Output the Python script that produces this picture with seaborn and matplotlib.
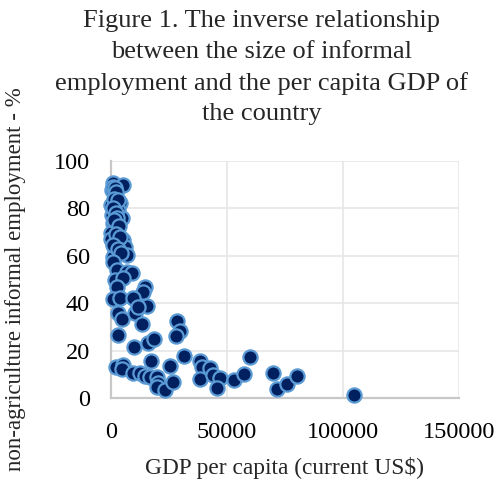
import matplotlib
matplotlib.use("Agg")
import matplotlib.pyplot as plt
import seaborn as sns
import pandas as pd

# GDP per capita (current US$) and non-agriculture informal employment (%)
gdp_per_capita = [
    1120, 5430, 500, 1850, 4000, 300, 3300, 430, 4740, 1120, 1850, 200, 200,
    5430, 6160, 1850, 6900, 1120,
    800, 2000, 2500, 1500, 3000, 900, 2200, 2800, 1500, 3800, 2500, 4200,
    1000, 3000, 4500,
    1120, 2590, 6900, 9050, 1850, 5430, 2590, 14780, 14050, 1120, 4000, 9740,
    15520, 3300, 4740, 10470, 11900, 13360, 3300,
    28450, 29870, 28140, 10180, 16200, 18800,
    2400, 5400, 4900, 9740, 12630, 14780, 16940, 17370, 19830, 20520, 19830,
    23400, 25560, 26980, 31720, 38490, 39220, 38490, 42800, 44220, 47100,
    45690, 53000, 57300, 60000, 69700, 71500, 76000, 80400, 104700,
]
informal_employment = [
    90.6, 89.9, 87.8, 85.7, 82.1, 81.4, 79.3, 77.2, 75.8, 73.7, 70.9, 69.5, 67.2,
    66.7, 63.8, 61.7, 60.3, 59.6,
    89.0, 88.5, 87.0, 84.0, 83.5, 80.0, 78.0, 76.0, 75.0, 72.5, 69.0, 68.0,
    64.5, 63.0, 61.0,
    57.5, 54.0, 53.3, 52.9, 49.8, 50.5, 47.0, 46.7, 44.9, 41.6, 42.1, 42.1,
    38.8, 35.7, 33.3, 36.0, 38.5, 31.2, 26.6,
    32.6, 28.4, 26.2, 21.4, 23.3, 24.8,
    13.0, 13.8, 12.3, 10.7, 10.4, 9.4, 9.0, 15.7, 9.0, 6.2, 4.8,
    3.4, 13.5, 6.9, 17.7, 15.6, 12.9, 7.9, 12.5, 9.7, 8.3,
    4.1, 7.6, 10.1, 17.4, 10.4, 3.8, 6.0, 9.3, 1.2,
]

x_ticks = [0, 50000, 100000, 150000]
y_ticks = [0, 20, 40, 60, 80, 100]

df = pd.DataFrame({"gdp": gdp_per_capita, "informal": informal_employment})

sns.set_style("white")
plt.rcParams["font.family"] = ["Liberation Serif", "DejaVu Serif"]

fig = plt.figure(figsize=(5.03, 4.86), dpi=100)
ax = fig.add_axes([0.220, 0.181, 0.693, 0.488])

sns.scatterplot(
    data=df, x="gdp", y="informal", ax=ax,
    s=105, color="#002060", edgecolor="#5B9BD5", linewidth=1.6,
    zorder=3, clip_on=False,
)

ax.set_xlim(0, 150000)
ax.set_ylim(0, 100)
ax.set_xticks(x_ticks)
ax.set_yticks(y_ticks)
ax.set_xticklabels([str(t) for t in x_ticks])
ax.set_yticklabels([str(t) for t in y_ticks])
ax.tick_params(axis="both", length=0, labelsize=17.5, colors="#000000")
ax.tick_params(axis="x", pad=17)
ax.tick_params(axis="y", pad=15)

ax.grid(True, color="#E6E6E6", linewidth=1.2, zorder=0)
ax.set_axisbelow(True)
for side in ["top", "right"]:
    ax.spines[side].set_visible(False)
for side in ["left", "bottom"]:
    ax.spines[side].set_color("#C8C8C8")
    ax.spines[side].set_linewidth(1.6)

ax.set_xlabel("GDP per capita (current US$)", fontsize=16.8, labelpad=10)
ax.set_ylabel("non-agriculture informal employment - %", fontsize=16.5, labelpad=20)

fig.suptitle(
    "Figure 1. The inverse relationship\nbetween the size of informal\n"
    "employment and the per capita GDP of\nthe country",
    fontsize=19, x=0.52, y=0.979, linespacing=1.5,
)

fig.savefig("out.png", dpi=100)
